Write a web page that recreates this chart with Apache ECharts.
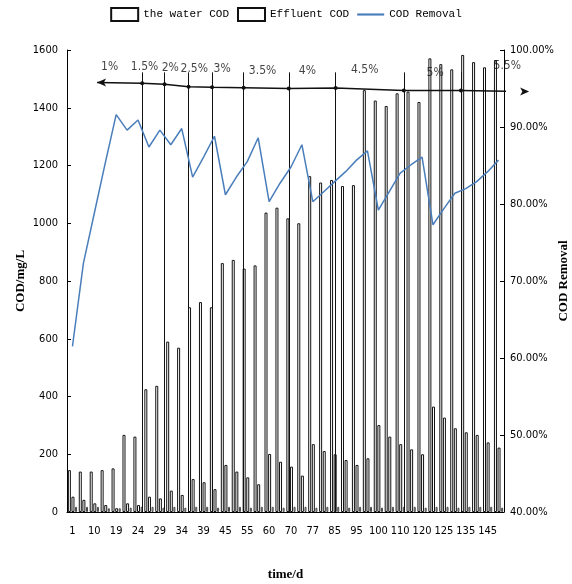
<!DOCTYPE html>
<html><head><meta charset="utf-8">
<script src="https://cdn.jsdelivr.net/npm/echarts@6/dist/echarts.min.js"></script>
<style>html,body{margin:0;padding:0;background:#fff}#c{width:572px;height:584px}</style>
</head><body><div id="c"></div><script>
const days = ['1','5','10','15','19','22','24','27','29','32','34','37','39','42','45','50','55','57','60','65','70','73','77','80','85','90','95','98','100','105','110','115','120','123','125','130','135','140','145','150'];
const influentCOD = [145,140,140,145,151,267,261,425,437,590,569,709,727,709,862,873,843,854,1037,1054,1017,1000,1163,1141,1150,1129,1132,1461,1425,1406,1450,1456,1420,1571,1551,1533,1583,1558,1540,1565];
const effluentCOD = [53,42,30,24,13,30,24,53,47,74,59,114,103,79,163,140,120,96,201,174,157,126,235,211,200,180,163,186,301,261,235,217,200,365,327,290,276,267,241,223];
const otherCOD = [18,18,18,13,13,15,18,18,15,18,15,18,18,15,18,18,15,18,18,15,18,18,15,18,18,15,18,18,15,18,18,18,15,18,18,15,18,18,18,15];
const removalRate = [61.5,72.3,78.8,85.3,91.6,89.6,90.9,87.4,89.6,87.7,89.8,83.5,86.1,88.8,81.2,83.5,85.5,88.6,80.3,82.7,84.8,87.7,80.3,81.6,82.9,84.2,85.7,86.9,79.2,81.6,84.0,85.1,86.1,77.3,79.4,81.4,82.0,82.9,84.2,85.7];
const yLeftTicks = [0,1600,200];
const yRightTicks = [40,100,10];
// phase annotations (dosage stages)
const phaseNames = ['1%','1.5%','2%','2.5%','3%','3.5%','4%','4.5%','5%','5.5%'];
const phaseLabelX = [3.9,7.1,9.45,11.65,14.2,17.9,22.0,27.25,33.7,40.3];
const phaseLabelY = [97.75,97.75,97.7,97.5,97.5,97.35,97.3,97.4,97.0,97.95];
const dividerX = [6.88,8.93,11.13,13.28,16.17,20.3,24.59,30.83,36.06];
const dividerTop = 97.1;
const arrowX = [2.75,6.88,8.93,11.13,13.28,16.17,20.3,24.59,30.83,36.06,42.3];
const arrowY = [95.78,95.68,95.55,95.23,95.16,95.1,95.0,95.06,94.74,94.74,94.6];

const condensed = "'Liberation Sans Narrow','DejaVu Sans Condensed','Liberation Sans',sans-serif";
const serif = "'Liberation Serif','DejaVu Serif',serif";
const mono = "'Liberation Mono','DejaVu Sans Mono',monospace";

const chart = echarts.init(document.getElementById('c'), null, {renderer:'canvas'});

const arrowData = arrowX.map((x,i)=>{
  const d = {value:[x, arrowY[i]]};
  if (i===0){ d.symbol='arrow'; d.symbolRotate=90; d.symbolSize=[6,9]; }
  else if (i===arrowX.length-1){ d.symbol='arrow'; d.symbolRotate=-90; d.symbolSize=[6,9]; }
  else { d.symbol='circle'; d.symbolSize=4; }
  return d;
});

const option = {
  animation:false,
  backgroundColor:'#fff',
  legend:{
    top:2, left:'center', itemWidth:27, itemHeight:13, itemGap:8,
    textStyle:{fontFamily:mono, fontSize:11, color:'#000'},
    data:[
      {name:'the water COD', icon:'rect'},
      {name:'Effluent COD', icon:'rect'},
      {name:'COD Removal', icon:'path://M0,0 L100,0 L100,8 L0,8 Z', itemStyle:{color:'#4a7ebb'}}
    ]
  },
  grid:{left:67, right:68, top:50, bottom:72, containLabel:false, outerBoundsMode:'none'},
  xAxis:[
    {type:'category', data:days, boundaryGap:true,
     axisLine:{lineStyle:{color:'#000'}}, axisTick:{show:false},
     axisLabel:{interval:1, color:'#000', fontFamily:condensed, fontSize:11, margin:14},
     name:'time/d', nameLocation:'middle', nameGap:56, nameMoveOverlap:false,
     nameTextStyle:{fontFamily:serif, fontWeight:'bold', fontSize:13, color:'#000'}},
    {type:'value', min:0, max:40, show:false}
  ],
  yAxis:[
    {type:'value', min:yLeftTicks[0], max:yLeftTicks[1], interval:yLeftTicks[2],
     axisLine:{show:true, lineStyle:{color:'#000'}},
     axisTick:{show:true, inside:true, length:4, lineStyle:{color:'#000'}},
     splitLine:{show:false},
     axisLabel:{color:'#000', fontFamily:condensed, fontSize:11, margin:9, formatter:v=>String(v)},
     name:'COD/mg/L', nameLocation:'middle', nameGap:40, nameRotate:90, nameMoveOverlap:false,
     nameTextStyle:{fontFamily:serif, fontWeight:'bold', fontSize:13, color:'#000'}},
    {type:'value', min:yRightTicks[0], max:yRightTicks[1], interval:yRightTicks[2], position:'right',
     axisLine:{show:true, lineStyle:{color:'#000'}},
     axisTick:{show:true, inside:true, length:4, lineStyle:{color:'#000'}},
     splitLine:{show:false},
     axisLabel:{color:'#000', fontFamily:condensed, fontSize:11, margin:6, formatter:v=>v.toFixed(2)+'%'},
     name:'COD Removal', nameLocation:'middle', nameGap:53, nameRotate:90, nameMoveOverlap:false,
     nameTextStyle:{fontFamily:serif, fontWeight:'bold', fontSize:13, color:'#000'}}
  ],
  series:[
    {name:'the water COD', type:'bar', data:influentCOD, barWidth:3,
     itemStyle:{color:'#fff', borderColor:'#111', borderWidth:1}},
    {name:'Effluent COD', type:'bar', data:effluentCOD, barWidth:3,
     itemStyle:{color:'#fff', borderColor:'#111', borderWidth:1}},
    {name:'other', type:'bar', data:otherCOD, barWidth:2, barGap:'20%',
     itemStyle:{color:'#fff', borderColor:'#444', borderWidth:1}},
    {name:'COD Removal', type:'line', yAxisIndex:1, data:removalRate, symbol:'none',
     lineStyle:{color:'#4a7ebb', width:1.5}, itemStyle:{color:'#4a7ebb'}, z:6},
    {type:'line', xAxisIndex:1, yAxisIndex:1, data:arrowData, clip:false, silent:true,
     showSymbol:true, lineStyle:{color:'#111', width:1.5}, itemStyle:{color:'#111'}, z:7,
     markLine:{silent:true, symbol:['none','none'], label:{show:false},
       lineStyle:{color:'#111', width:1, type:'solid'},
       data:dividerX.map(u=>[{coord:[u,dividerTop]},{coord:[u,yRightTicks[0]]}])}},
    {type:'scatter', xAxisIndex:1, yAxisIndex:1, clip:false, silent:true, symbolSize:1,
     itemStyle:{color:'rgba(0,0,0,0)'},
     label:{show:true, position:'inside', formatter:'{b}', color:'#111', fontFamily:condensed, fontSize:12},
     data:phaseNames.map((n,i)=>({name:n, value:[phaseLabelX[i], phaseLabelY[i]]})), z:8}
  ]
};
chart.setOption(option);
</script></body></html>
